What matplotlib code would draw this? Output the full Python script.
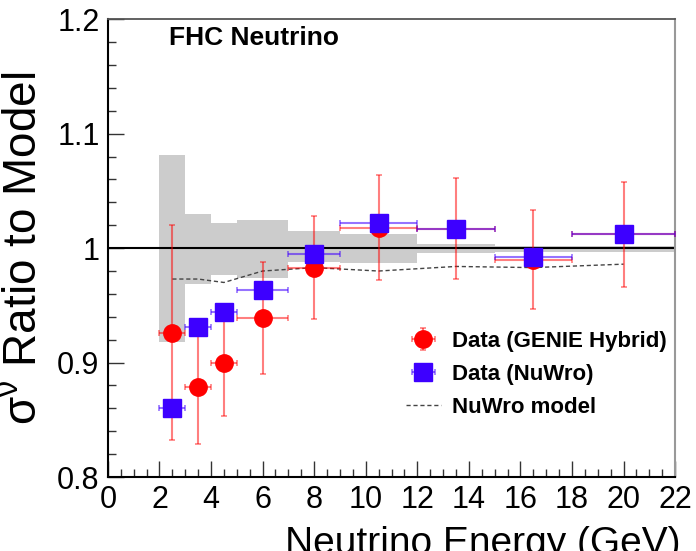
import matplotlib
matplotlib.use("Agg")
import matplotlib.pyplot as plt
import numpy as np

## dados
energia = [2.5, 3.5, 4.5, 6, 8, 10.5, 13.5, 16.5, 20]
meia_largura = [0.5, 0.5, 0.5, 1, 1, 1.5, 1.5, 1.5, 2]
genie = [0.926, 0.879, 0.900, 0.939, 0.983, 1.018, 1.017, 0.990, 1.012]
genie_err = [0.094, 0.050, 0.047, 0.049, 0.045, 0.046, 0.044, 0.043, 0.046]
nuwro = [0.860, 0.931, 0.944, 0.963, 0.995, 1.022, 1.017, 0.992, 1.012]
modelo = [0.973, 0.973, 0.970, 0.980, 0.983, 0.980, 0.984, 0.983, 0.986]

## banda cinza (incerteza do modelo)
bordas = [2, 3, 4, 5, 7, 9, 12, 15, 18, 22]
banda_cima = [1.0815, 1.0297, 1.0224, 1.0247, 1.0154, 1.0122, 1.0037, 1.0023, 1.0023]
banda_baixo = [0.9176, 0.9688, 0.9767, 0.9743, 0.9875, 0.9874, 0.9960, 0.9970, 0.9970]

plt.rcParams["font.family"] = ["Liberation Sans", "DejaVu Sans"]
plt.rcParams["mathtext.fontset"] = "custom"
plt.rcParams["mathtext.rm"] = "Liberation Sans"

fig = plt.figure(figsize=(6.96, 5.51), dpi=100)
ax = fig.add_axes([0.155, 0.1343, 0.815, 0.8307])

larguras = np.diff(bordas)
alturas = np.array(banda_cima) - np.array(banda_baixo)
ax.bar(bordas[:-1], alturas, width=larguras, bottom=banda_baixo, align="edge",
       color="#cccccc", lw=0, zorder=1)
ax.axhline(1.0, color="black", lw=1.5, zorder=2)
linha_modelo, = ax.plot(energia, modelo, color="#444444", ls=(0, (3, 2)), lw=1.0, zorder=2.5)

eb_genie = ax.errorbar(energia, genie, xerr=meia_largura, yerr=genie_err, fmt="o", color="red", ms=12.5,
                       ecolor=(1, 0, 0, 0.5), elinewidth=1.5, capsize=2.5, capthick=1.2, zorder=3)
eb_nuwro = ax.errorbar(energia, nuwro, xerr=meia_largura, fmt="s", color="#3d00ff", ms=12.5,
                       ecolor=(0.25, 0, 1, 0.55), elinewidth=1.5, capsize=2.5, capthick=1.2, zorder=4)

ax.set_xlim(0, 22)
ax.set_ylim(0.8, 1.2)
ax.set_xticks(np.arange(0, 23, 2))
ax.set_xticks(np.arange(0, 22.1, 0.5), minor=True)
ax.set_yticks([0.8, 0.9, 1.0, 1.1, 1.2])
ax.set_yticklabels(["0.8", "0.9", "1", "1.1", "1.2"])
ax.set_yticks(np.arange(0.8, 1.201, 0.02), minor=True)
ax.tick_params(which="both", direction="in", top=False, right=False, width=1.0, colors="#333333",
               labelcolor="black", labelsize=22)
ax.tick_params(which="major", length=11.5, pad=6)
ax.tick_params(which="minor", length=5.5)

ax.spines["left"].set_linewidth(1.5)
ax.spines["bottom"].set_linewidth(1.5)
ax.spines["top"].set_color("#555555")
ax.spines["top"].set_linewidth(1.3)
ax.spines["right"].set_color("#999999")
ax.spines["right"].set_linewidth(1.5)

ax.text(0.108, 0.985, "FHC Neutrino", transform=ax.transAxes, fontsize=19, fontweight="bold",
        ha="left", va="top")

ax.set_ylabel(r"$\mathregular{\sigma^{\nu}}$ Ratio to Model", fontsize=33, labelpad=8)
fig.text(0.978, -0.005, "Neutrino Energy (GeV)", fontsize=28, ha="right", va="baseline")

ax.legend([eb_genie, eb_nuwro, linha_modelo],
          ["Data (GENIE Hybrid)", "Data (NuWro)", "NuWro model"],
          loc="upper left", bbox_to_anchor=(0.525, 0.32), frameon=False,
          prop={"weight": "bold", "size": 16}, handlelength=1.6, handletextpad=0.5,
          labelspacing=0.55, borderpad=0, borderaxespad=0)

fig.savefig("out.png", dpi=100)
